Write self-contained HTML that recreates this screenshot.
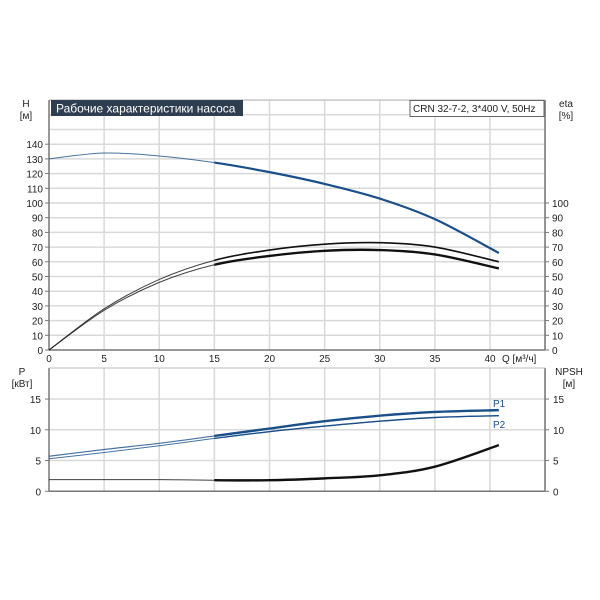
<!DOCTYPE html>
<html><head><meta charset="utf-8"><style>
body{margin:0;background:#fff;}
svg{display:block;font-family:"Liberation Sans",sans-serif;}
</style></head><body>
<svg id="c" width="600" height="600" viewBox="0 0 600 600"></svg>
<script>
const qTicks=[0,5,10,15,20,25,30,35,40];
const hTicks=[0,10,20,30,40,50,60,70,80,90,100,110,120,130,140];
const etaTicks=[0,10,20,30,40,50,60,70,80,90,100];
const pTicks=[0,5,10,15];
const qPts=[0,5,10,15,20,25,30,35,40.8];
const headVals=[130,134,132,127.5,121,113,103,89,66];
const eta1Vals=[0,28,48,61,68,72,73,70,60];
const eta2Vals=[0,27,46,58,64,67.5,68,65,55.5];
const p1Vals=[5.7,6.8,7.8,9,10.2,11.4,12.3,12.9,13.2];
const p2Vals=[5.3,6.3,7.4,8.6,9.7,10.6,11.4,12,12.3];
const npshVals=[1.9,1.9,1.9,1.8,1.8,2.1,2.6,4.0,7.5];

const svg=document.getElementById('c');
const NS='http://www.w3.org/2000/svg';
function mk(t,a,p){const e=document.createElementNS(NS,t);for(const k in a)e.setAttribute(k,a[k]);(p||svg).appendChild(e);return e;}
const L=49,R=545;
const x=q=>L+q*(441/40);
const yH=v=>350-v*1.47;
const yP=v=>491.3-v*6.15;

// grids
for(let v=10;v<=170;v+=10){const g=mk('line',{x1:L,x2:R,y1:yH(v),y2:yH(v),stroke:'#d9d9d9','stroke-width':1.5});}
for(let v=5;v<=45;v+=5){const g=mk('line',{x1:x(v),x2:x(v),y1:100,y2:350,stroke:'#d9d9d9','stroke-width':1.5});
 const g2=mk('line',{x1:x(v),x2:x(v),y1:368,y2:491,stroke:'#d9d9d9','stroke-width':1.5});}
for(let v=5;v<=19;v+=5){const g=mk('line',{x1:L,x2:R,y1:yP(v),y2:yP(v),stroke:'#d9d9d9','stroke-width':1.5});}
// frames
[[100,350],[368,491.3]].forEach(([t,b])=>{
 mk('line',{x1:L,x2:L,y1:t,y2:b,stroke:'#777','stroke-width':1.5});
 mk('line',{x1:R,x2:R,y1:t,y2:b,stroke:'#777','stroke-width':1.5});
 mk('line',{x1:L,x2:R,y1:b,y2:b,stroke:'#777','stroke-width':1.5});
 mk('line',{x1:L,x2:R,y1:t,y2:t,stroke:'#bbb','stroke-width':1});
});
function txt(s,X,Y,anchor,size,name,fill){const t=mk('text',{x:X,y:Y,'text-anchor':anchor,'font-size':size,fill:fill||'#222'});t.textContent=s;return t;}
hTicks.forEach(v=>{mk('line',{x1:L-4,x2:L,y1:yH(v),y2:yH(v),stroke:'#777'});txt(v,L-6,yH(v)+4,'end',10,'h-tick-label');});
etaTicks.forEach(v=>{mk('line',{x1:R,x2:R+4,y1:yH(v),y2:yH(v),stroke:'#777'});txt(v,R+7,yH(v)+4,'start',10,'eta-tick-label');});
qTicks.forEach(v=>{txt(v,x(v),362,'middle',10,'q-tick-label');});
pTicks.forEach(v=>{mk('line',{x1:L-4,x2:L,y1:yP(v),y2:yP(v),stroke:'#777'});txt(v,L-8,yP(v)+4,'end',10,'p-tick-label');
 mk('line',{x1:R,x2:R+4,y1:yP(v),y2:yP(v),stroke:'#777'});txt(v,R+8,yP(v)+4,'start',10,'npsh-tick-label');});
txt('H',26,107,'middle',10,'h-axis-title');txt('[м]',26,119,'middle',10,'h-axis-unit');
txt('eta',566,107,'middle',10,'eta-axis-title');txt('[%]',566,119,'middle',10,'eta-axis-unit');
txt('Q [м³/ч]',502,362,'start',10,'q-axis-title');
txt('P',22,375,'middle',10,'p-axis-title');txt('[кВт]',22,387,'middle',10,'p-axis-unit');
txt('NPSH',569,375,'middle',10,'npsh-axis-title');txt('[м]',569,387,'middle',10,'npsh-axis-unit');
// title boxes
const tb=mk('rect',{x:51,y:100,width:192,height:16,fill:'#2e3d4f'});
txt('Рабочие характеристики насоса',56,112.5,'start',12,'chart-title','#fff');
const mb=mk('rect',{x:410,y:100.5,width:134,height:16,fill:'#fff',stroke:'#666'});
txt('CRN 32-7-2, 3*400 V, 50Hz',413,112,'start',10,'model-label');

function path(vals,yf,from,to){
 const P=qPts.map((q,i)=>[x(q),yf(vals[i])]);
 let d='M'+P[0][0]+','+P[0][1];
 for(let i=0;i<P.length-1;i++){const p0=P[i-1]||P[i],p1=P[i],p2=P[i+1],p3=P[i+2]||p2;
  d+=` C${p1[0]+(p2[0]-p0[0])/6},${p1[1]+(p2[1]-p0[1])/6} ${p2[0]-(p3[0]-p1[0])/6},${p2[1]-(p3[1]-p1[1])/6} ${p2[0]},${p2[1]}`;}
 return d;
}
function curve(vals,yf,col,thin,thick,name){
 const clipId='cl'+name;
 const cp=mk('clipPath',{id:clipId});mk('rect',{x:x(15),y:0,width:600,height:600},cp);
 const a=mk('path',{d:path(vals,yf),fill:'none',stroke:col,'stroke-width':thin,opacity:0.8});
 const b=mk('path',{d:path(vals,yf),fill:'none',stroke:col,'stroke-width':thick,'clip-path':`url(#${clipId})`});
}
curve(headVals,yH,'#1a4f8a',1,2.2,'head');
curve(eta1Vals,yH,'#111',1,1.6,'eta1');
curve(eta2Vals,yH,'#111',1,2.4,'eta2');
curve(p1Vals,yP,'#1a4f8a',1.2,2.4,'p1');
curve(p2Vals,yP,'#1a4f8a',1,1.4,'p2');
curve(npshVals,yP,'#111',1,2.4,'npsh');
txt('P1',493,407,'start',10,'p1-label','#1a4f8a');
txt('P2',493,428,'start',10,'p2-label','#1a4f8a');
</script>
</body></html>
